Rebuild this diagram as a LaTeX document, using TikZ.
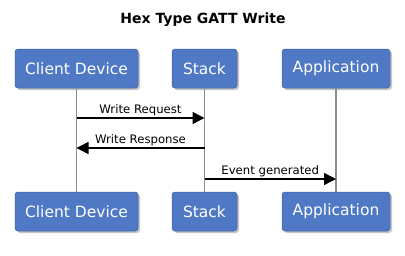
\documentclass[tikz,border=0pt]{standalone}
\usepackage{fontspec}
\setmainfont{DejaVu Sans}
\usetikzlibrary{arrows.meta,shadows}

\definecolor{boxblue}{HTML}{4F79C4}

\begin{document}
\begin{tikzpicture}[x=1pt, y=-1pt, thick]
  \useasboundingbox (0,0) rectangle (405,255);
  \tikzset{
    actor/.style={draw=boxblue!80!black, line width=0.5pt, fill=boxblue, rounded corners=3pt,
      text=white, font=\fontsize{15.5}{18}\selectfont, minimum height=39pt, inner xsep=0pt,
      drop shadow={shadow xshift=2pt, shadow yshift=-2pt, fill=black!45}},
    life/.style={draw=black!45, line width=1.8pt},
    msg/.style={line width=1.4pt, -{Triangle[length=12pt, width=12pt]}},
    lbl/.style={font=\fontsize{11.7}{13}\selectfont, inner sep=1.5pt}
  }

  % 标题
  \node[font=\bfseries\fontsize{14}{16}\selectfont] (title) at (203,20) {Hex Type GATT Write};

  % 上方参与者
  \node[actor, minimum width=123pt] (clientT) at (76.5,68.5) {Client Device};
  \node[actor, minimum width=65pt]  (stackT)  at (204.5,68.5) {Stack};
  \node[actor, minimum width=108pt] (appT)    at (336,68.5) {Application};

  % 下方参与者
  \node[actor, minimum width=123pt] (clientB) at (76.5,211.5) {Client Device};
  \node[actor, minimum width=65pt]  (stackB)  at (204.5,211.5) {Stack};
  \node[actor, minimum width=108pt] (appB)    at (336,211.5) {Application};

  % 生命线
  \draw[life] (clientT.south) -- (clientB.north);
  \draw[life] (stackT.south) -- (stackB.north);
  \draw[life] (appT.south) -- (appB.north);

  % 消息
  \coordinate (m1a) at (clientT.south |- 0,118);
  \coordinate (m1b) at (stackT.south |- 0,118);
  \draw[msg] (m1a) -- (m1b) node[lbl, midway, above] {Write Request};

  \coordinate (m2a) at (stackT.south |- 0,148);
  \coordinate (m2b) at (clientT.south |- 0,148);
  \draw[msg] (m2a) -- (m2b) node[lbl, midway, above] {Write Response};

  \coordinate (m3a) at (stackT.south |- 0,179);
  \coordinate (m3b) at (appT.south |- 0,179);
  \draw[msg] (m3a) -- (m3b) node[lbl, midway, above] {Event generated};
\end{tikzpicture}
\end{document}
